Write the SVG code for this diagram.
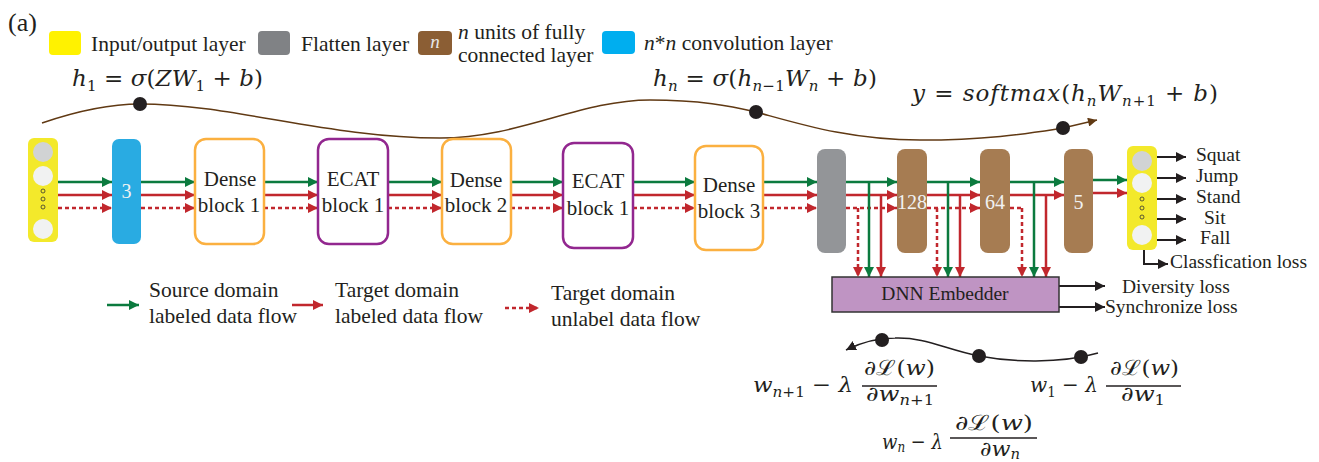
<svg xmlns="http://www.w3.org/2000/svg" width="1319" height="462" viewBox="0 0 1319 462">
<style>
.t{font-family:"Liberation Serif",'Times New Roman',Times,"DejaVu Serif",serif;fill:#231f20}
.u{fill:#231f20}
.hd{font-size:26px}
.lg{font-size:21.5px}
.bk{font-size:21px;text-anchor:middle}
.lb{font-size:19.5px}
.mid{text-anchor:middle}
.num{font-size:20px;fill:#f1f2f2;text-anchor:middle}
.ln{font-size:19px;fill:#e6e7e8;text-anchor:middle;font-style:italic}
.m{font-family:"DejaVu Serif",serif;font-size:23px;fill:#231f20}
.m2{font-size:21px;fill:#231f20}
.i{font-style:italic}
.s{font-size:15px}
.s2{font-size:14px}
.g{stroke:#0b7a3e;stroke-width:2.5;fill:none}
.r{stroke:#c1272d;stroke-width:2.5;fill:none}
.d{stroke:#c1272d;stroke-width:2.5;fill:none;stroke-dasharray:4 3}
.k{stroke:#231f20;stroke-width:2;fill:none}
.cv{stroke:#603913;stroke-width:1.5;fill:none}
.cb{stroke:#231f20;stroke-width:1.5;fill:none}
.bar{stroke:#231f20;stroke-width:1.5}
.dot{fill:#231f20}
.yl{fill:#f3e92b}
.c1{fill:#d1d3d4}
.c2{fill:#f1f2f2}
.sd{fill:none;stroke:#333;stroke-width:0.8}
.br{fill:#a67c52}
.wb{fill:#fff;stroke-width:2.5}
.or{stroke:#fbb040}
.pu{stroke:#92278f}
</style>
<defs>
<marker id="mg" viewBox="0 0 10 10" refX="10" refY="5" markerWidth="10" markerHeight="10" markerUnits="userSpaceOnUse" orient="auto"><path d="M0,0 L10,5 L0,10 z" fill="#0b7a3e"/></marker>
<marker id="mr" viewBox="0 0 10 10" refX="10" refY="5" markerWidth="10" markerHeight="10" markerUnits="userSpaceOnUse" orient="auto"><path d="M0,0 L10,5 L0,10 z" fill="#c1272d"/></marker>
<marker id="mk" viewBox="0 0 10 10" refX="10" refY="5" markerWidth="10" markerHeight="10" markerUnits="userSpaceOnUse" orient="auto"><path d="M0,0 L10,5 L0,10 z" fill="#231f20"/></marker>
<marker id="mb" viewBox="0 0 10 10" refX="10" refY="5" markerWidth="11" markerHeight="9" markerUnits="userSpaceOnUse" orient="auto"><path d="M0,0 L10,5 L0,10 z" fill="#603913"/></marker>
</defs>

<g id="header">
<text class="t hd" x="8" y="31">(a)</text>
</g>

<g id="legend">
<rect x="49" y="31" width="32" height="24" rx="4" fill="#fff200"/>
<text class="t lg" x="91" y="51">Input/output layer</text>
<rect x="258" y="31" width="32" height="24" rx="4" fill="#808285"/>
<text class="t lg" x="301" y="51">Flatten layer</text>
<rect x="418" y="31" width="34" height="24" rx="4" fill="#8b5e34"/>
<text class="t ln" x="435" y="48">n</text>
<text class="t lg" x="458" y="39"><tspan class="i">n</tspan> units of fully</text>
<text class="t lg" x="458" y="62">connected layer</text>
<rect x="602" y="31" width="33" height="23" rx="4" fill="#00aeef"/>
<text class="t lg" x="644" y="50"><tspan class="i">n</tspan>*<tspan class="i">n</tspan> convolution layer</text>
</g>

<g id="eq-top">
<text class="m" x="72" y="86" textLength="191" lengthAdjust="spacing"><tspan class="i">h</tspan><tspan class="s" dy="5">1</tspan><tspan dy="-5"> = </tspan><tspan class="i">σ</tspan>(<tspan class="i">ZW</tspan><tspan class="s" dy="5">1</tspan><tspan dy="-5"> + </tspan><tspan class="i">b</tspan>)</text>
<text class="m" x="653" y="86" textLength="224" lengthAdjust="spacing"><tspan class="i">h</tspan><tspan class="s i" dy="5">n</tspan><tspan dy="-5"> = </tspan><tspan class="i">σ</tspan>(<tspan class="i">h</tspan><tspan class="s" dy="5"><tspan class="i">n</tspan>−1</tspan><tspan class="i" dy="-5">W</tspan><tspan class="s i" dy="5">n</tspan><tspan dy="-5"> + </tspan><tspan class="i">b</tspan>)</text>
<text class="m" x="912" y="101" textLength="306" lengthAdjust="spacing"><tspan class="i">y</tspan> = <tspan class="i">softmax</tspan>(<tspan class="i">h</tspan><tspan class="s i" dy="5">n</tspan><tspan class="i" dy="-5">W</tspan><tspan class="s" dy="5"><tspan class="i">n</tspan>+1</tspan><tspan dy="-5"> + </tspan><tspan class="i">b</tspan>)</text>
<path class="cv" d="M42 123 C80 110 110 104 140 104 C230 104 330 138 440 138 C520 138 580 100 650 100 C700 100 730 106 756 112 C800 124 850 140 920 140 C990 140 1030 133 1063 128 L1097 120" marker-end="url(#mb)"/>
<circle class="dot" cx="140" cy="104" r="7"/>
<circle class="dot" cx="756" cy="112" r="7"/>
<circle class="dot" cx="1063" cy="128" r="7"/>
</g>

<g id="connectors">
<g class="g" marker-end="url(#mg)">
<line x1="58" y1="182" x2="112" y2="182"/>
<line x1="141" y1="182" x2="195" y2="182"/>
<line x1="264" y1="182" x2="318" y2="182"/>
<line x1="388" y1="182" x2="442" y2="182"/>
<line x1="511" y1="182" x2="563" y2="182"/>
<line x1="633" y1="182" x2="695" y2="182"/>
<line x1="763" y1="182" x2="817" y2="182"/>
<line x1="846" y1="182" x2="897" y2="182"/>
<line x1="927" y1="182" x2="980" y2="182"/>
<line x1="1010" y1="182" x2="1064" y2="182"/>
<line x1="1093" y1="180" x2="1127" y2="180"/>
</g>
<g class="r" marker-end="url(#mr)">
<line x1="58" y1="195" x2="112" y2="195"/>
<line x1="141" y1="195" x2="195" y2="195"/>
<line x1="264" y1="195" x2="318" y2="195"/>
<line x1="388" y1="195" x2="442" y2="195"/>
<line x1="511" y1="195" x2="563" y2="195"/>
<line x1="633" y1="195" x2="695" y2="195"/>
<line x1="763" y1="195" x2="817" y2="195"/>
<line x1="846" y1="195" x2="897" y2="195"/>
<line x1="927" y1="195" x2="980" y2="195"/>
<line x1="1010" y1="195" x2="1064" y2="195"/>
<line x1="1093" y1="193" x2="1127" y2="193"/>
</g>
<g class="d" marker-end="url(#mr)">
<line x1="58" y1="208" x2="112" y2="208"/>
<line x1="141" y1="208" x2="195" y2="208"/>
<line x1="264" y1="208" x2="318" y2="208"/>
<line x1="388" y1="208" x2="442" y2="208"/>
<line x1="511" y1="208" x2="563" y2="208"/>
<line x1="633" y1="208" x2="695" y2="208"/>
<line x1="763" y1="208" x2="817" y2="208"/>
<line x1="846" y1="208" x2="897" y2="208"/>
<line x1="927" y1="208" x2="980" y2="208"/>
</g>
<path class="d" d="M1010 208 H1022"/>
<g class="d" marker-end="url(#mr)">
<line x1="858" y1="208" x2="858" y2="277"/>
<line x1="937" y1="208" x2="937" y2="277"/>
<path d="M1022 208 V277"/>
</g>
<g class="r" marker-end="url(#mr)">
<line x1="881" y1="195" x2="881" y2="277"/>
<line x1="960" y1="195" x2="960" y2="277"/>
<line x1="1046" y1="195" x2="1046" y2="277"/>
</g>
<g class="g" marker-end="url(#mg)">
<line x1="869" y1="182" x2="869" y2="277"/>
<line x1="948" y1="182" x2="948" y2="277"/>
<line x1="1034" y1="182" x2="1034" y2="277"/>
</g>
<g class="k" marker-end="url(#mk)">
<line x1="1157" y1="157" x2="1186" y2="157"/>
<line x1="1157" y1="178" x2="1186" y2="178"/>
<line x1="1157" y1="199" x2="1186" y2="199"/>
<line x1="1157" y1="219" x2="1186" y2="219"/>
<line x1="1157" y1="240" x2="1186" y2="240"/>
<path d="M1144 250 V264 H1168"/>
<line x1="1059" y1="286" x2="1105" y2="286"/>
<line x1="1059" y1="307" x2="1105" y2="307"/>
</g>
</g>

<g id="nodes" font-family="Liberation Serif, serif">
<g id="input-layer">
<rect class="yl" x="28" y="138" width="30" height="104" rx="6"/>
<circle class="c1" cx="43" cy="152" r="10"/>
<circle class="c2" cx="43" cy="176" r="10"/>
<circle class="sd" cx="43" cy="191" r="2"/>
<circle class="sd" cx="43" cy="199" r="2"/>
<circle class="sd" cx="43" cy="207" r="2"/>
<circle class="c2" cx="43" cy="229" r="10"/>
</g>
<g id="conv3">
<rect x="112" y="139" width="29" height="105" rx="7" fill="#29abe2"/>
<text class="num" x="126.5" y="198">3</text>
</g>
<g id="dense1">
<rect class="wb or" x="195" y="139" width="69" height="105" rx="11"/>
<text class="u bk" x="230" y="186">Dense</text>
<text class="u bk" x="229" y="212">block 1</text>
</g>
<g id="ecat1">
<rect class="wb pu" x="318" y="139" width="70" height="105" rx="11"/>
<text class="u bk" x="353" y="186">ECAT</text>
<text class="u bk" x="353" y="212">block 1</text>
</g>
<g id="dense2">
<rect class="wb or" x="442" y="139" width="69" height="105" rx="11"/>
<text class="u bk" x="476" y="187">Dense</text>
<text class="u bk" x="476" y="212">block 2</text>
</g>
<g id="ecat2">
<rect class="wb pu" x="563" y="143" width="70" height="105" rx="11"/>
<text class="u bk" x="598" y="188">ECAT</text>
<text class="u bk" x="598" y="215">block 1</text>
</g>
<g id="dense3">
<rect class="wb or" x="695" y="146" width="68" height="104" rx="11"/>
<text class="u bk" x="729" y="192">Dense</text>
<text class="u bk" x="729" y="218">block 3</text>
</g>
<g id="flatten">
<rect x="817" y="149" width="29" height="104" rx="8" fill="#939598"/>
</g>
<g id="fc128">
<rect class="br" x="897" y="149" width="30" height="104" rx="8"/>
<text class="num" x="912" y="209">128</text>
</g>
<g id="fc64">
<rect class="br" x="980" y="149" width="30" height="104" rx="8"/>
<text class="num" x="995" y="209">64</text>
</g>
<g id="fc5">
<rect class="br" x="1064" y="149" width="29" height="104" rx="8"/>
<text class="num" x="1078.5" y="209">5</text>
</g>
<g id="output-layer">
<rect class="yl" x="1127" y="146" width="30" height="104" rx="6"/>
<circle class="c1" cx="1142" cy="161" r="10"/>
<circle class="c2" cx="1142" cy="183" r="10"/>
<circle class="sd" cx="1142" cy="199" r="2"/>
<circle class="sd" cx="1142" cy="208" r="2"/>
<circle class="sd" cx="1142" cy="217" r="2"/>
<circle class="c2" cx="1142" cy="235" r="10"/>
</g>
<g id="dnn-embedder">
<rect x="832" y="277" width="227" height="35" fill="#bf94c3" stroke="#333" stroke-width="1.5"/>
<text class="u lb mid" x="945" y="300">DNN Embedder</text>
</g>
</g>

<g id="class-labels">
<text class="t lb" x="1196" y="161">Squat</text>
<text class="t lb" x="1196" y="182">Jump</text>
<text class="t lb" x="1196" y="203">Stand</text>
<text class="t lb" x="1204" y="224">Sit</text>
<text class="t lb" x="1200" y="244">Fall</text>
<text class="t lb" x="1170" y="268">Classfication loss</text>
<text class="t lb" x="1122" y="293">Diversity loss</text>
<text class="t lb" x="1105" y="313">Synchronize loss</text>
</g>

<g id="flow-legend" font-family="Liberation Serif, serif">
<line class="g" x1="107" y1="305" x2="139" y2="305" marker-end="url(#mg)"/>
<text class="u lg" x="149" y="297">Source domain</text>
<text class="u lg" x="149" y="323">labeled data flow</text>
<line class="r" x1="292" y1="305" x2="323" y2="305" marker-end="url(#mr)"/>
<text class="u lg" x="335" y="297">Target domain</text>
<text class="u lg" x="335" y="323">labeled data flow</text>
<line class="d" x1="505" y1="308" x2="539" y2="308" marker-end="url(#mr)"/>
<text class="u lg" x="551" y="300">Target domain</text>
<text class="u lg" x="551" y="326">unlabel data flow</text>
</g>

<g id="eq-gradient" font-family="DejaVu Serif, serif">
<path class="cb" d="M1098 353 C1060 364 1010 362 979 356 C945 349 925 337 895 338 C875 338 860 343 846 350" marker-end="url(#mk)"/>
<circle class="dot" cx="882" cy="340" r="7"/>
<circle class="dot" cx="979" cy="356" r="7"/>
<circle class="dot" cx="1081" cy="357" r="7"/>
<text class="m2" x="753" y="392" textLength="100" lengthAdjust="spacingAndGlyphs"><tspan class="i">w</tspan><tspan class="s2" dy="5"><tspan class="i">n</tspan>+1</tspan><tspan dy="-5"> − </tspan><tspan class="i">λ</tspan></text>
<text class="m2" x="864" y="375" textLength="71" lengthAdjust="spacingAndGlyphs">∂ℒ(<tspan class="i">w</tspan>)</text>
<line class="bar" x1="862" y1="386" x2="937" y2="386"/>
<text class="m2" x="866" y="401" textLength="68" lengthAdjust="spacingAndGlyphs">∂<tspan class="i">w</tspan><tspan class="s2" dy="4"><tspan class="i">n</tspan>+1</tspan></text>
<text class="m2" x="1030" y="392" textLength="68" lengthAdjust="spacingAndGlyphs"><tspan class="i">w</tspan><tspan class="s2" dy="5">1</tspan><tspan dy="-5"> − </tspan><tspan class="i">λ</tspan></text>
<text class="m2" x="1110" y="375" textLength="69" lengthAdjust="spacingAndGlyphs">∂ℒ(<tspan class="i">w</tspan>)</text>
<line class="bar" x1="1106" y1="386" x2="1181" y2="386"/>
<text class="m2" x="1121" y="401" textLength="44" lengthAdjust="spacingAndGlyphs">∂<tspan class="i">w</tspan><tspan class="s2" dy="4">1</tspan></text>
<text class="m2" x="882" y="449" textLength="61" lengthAdjust="spacingAndGlyphs"><tspan class="i">w</tspan><tspan class="s2 i" dy="3">n</tspan><tspan dy="-3"> − </tspan><tspan class="i">λ</tspan></text>
<text class="m2" x="955" y="430" textLength="78" lengthAdjust="spacingAndGlyphs">∂ℒ(<tspan class="i">w</tspan>)</text>
<line class="bar" x1="950" y1="438" x2="1037" y2="438"/>
<text class="m2" x="980" y="456" textLength="40" lengthAdjust="spacingAndGlyphs">∂<tspan class="i">w</tspan><tspan class="s2 i" dy="3">n</tspan></text>
</g>
</svg>
